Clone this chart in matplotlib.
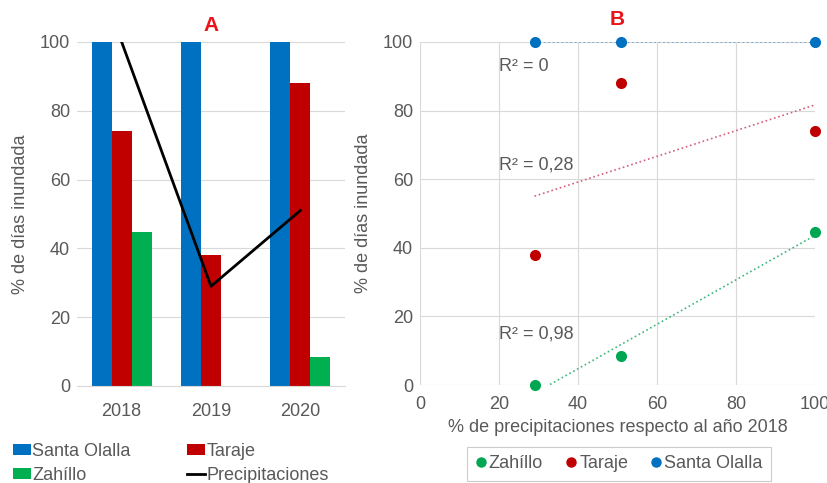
import matplotlib.pyplot as plt
from matplotlib.lines import Line2D
import numpy as np

plt.rcParams['font.family'] = ['Liberation Sans', 'DejaVu Sans']

years = ['2018', '2019', '2020']
santa_olalla = [100, 100, 100]
taraje = [74, 38, 88]
zahillo = [44.7, 0, 8.4]
precipitaciones = [100, 29, 51]

grey = '#595959'
gridc = '#d9d9d9'
c_blue = '#0070c0'
c_red = '#c00000'
c_green = '#00b050'
fs = 13

fig = plt.figure(figsize=(8.28, 4.83), dpi=100)

# ---- panel A: bars + precipitation line
axA = fig.add_axes([77 / 828, 97 / 483, 268 / 828, 344 / 483])
x = np.arange(len(years))
w = 0.224
bA1 = axA.bar(x - w, santa_olalla, w, color=c_blue, zorder=2)
bA2 = axA.bar(x, taraje, w, color=c_red, zorder=2)
bA3 = axA.bar(x + w, zahillo, w, color=c_green, zorder=2)
lA, = axA.plot(x, precipitaciones, color='black', lw=2, zorder=3)
axA.set_xlim(-0.5, 2.5)
axA.set_ylim(0, 100)
axA.set_yticks([0, 20, 40, 60, 80, 100])
axA.set_xticks(x)
axA.set_xticklabels(years)
axA.yaxis.grid(True, color=gridc, lw=0.8, zorder=0)
for s in ['top', 'right', 'left']:
    axA.spines[s].set_visible(False)
axA.spines['bottom'].set_color(gridc)
axA.tick_params(length=0, labelsize=fs, labelcolor=grey)
axA.tick_params(axis='x', pad=12)
axA.tick_params(axis='y', pad=5)
axA.set_ylabel('% de días inundada', fontsize=fs, color=grey, labelpad=8)
axA.set_title('A', color='#e8141c', fontsize=15, fontweight='bold', pad=8)

# legend fills column-wise: col 1 = Santa Olalla / Zahíllo, col 2 = Taraje / Precipitaciones
fig.legend([bA1, bA3, bA2, lA],
           ['Santa Olalla', 'Zahíllo', 'Taraje', 'Precipitaciones'],
           ncol=2, loc='upper left', bbox_to_anchor=(4 / 828, 1 - 434 / 483),
           frameon=False, fontsize=fs, labelcolor=grey,
           handlelength=1.0, handleheight=0.55, handletextpad=0.05,
           columnspacing=3.15, labelspacing=0.4, borderpad=0)

# ---- panel B: scatter vs precipitation with linear trendlines
axB = fig.add_axes([420 / 828, 98 / 483, 395 / 828, 343 / 483])
series = [
    ('Zahíllo', zahillo, '#00a651', '#3cb878', 'R² = 0,98', 15),
    ('Taraje', taraje, c_red, '#d45f7a', 'R² = 0,28', 64),
    ('Santa Olalla', santa_olalla, c_blue, '#5b9bd5', 'R² = 0', 93),
]
handles = []
xp = np.array(precipitaciones, dtype=float)
xs = np.linspace(xp.min(), xp.max(), 200)
for name, vals, col, tcol, r2, ty in series:
    axB.scatter(xp, vals, s=64, color=col, zorder=4, clip_on=False,
                linewidths=0)
    handles.append(Line2D([], [], ls='none', marker='o', ms=6.5,
                          color=col, label=name))
    k, b = np.polyfit(xp, vals, 1)
    ys = k * xs + b
    m = ys >= 0
    axB.plot(xs[m], ys[m], ls=':', lw=1.2, color=tcol, zorder=3)
    axB.text(20, ty, r2, fontsize=fs, color=grey, va='center', ha='left')

axB.set_xlim(0, 100)
axB.set_ylim(0, 100)
axB.set_xticks([0, 20, 40, 60, 80, 100])
axB.set_yticks([0, 20, 40, 60, 80, 100])
axB.grid(True, color=gridc, lw=0.8, zorder=0)
for s in axB.spines.values():
    s.set_visible(False)
axB.tick_params(length=0, labelsize=fs, labelcolor=grey)
axB.tick_params(axis='x', pad=8)
axB.tick_params(axis='y', pad=5)
axB.set_ylabel('% de días inundada', fontsize=fs, color=grey, labelpad=8)
axB.set_xlabel('% de precipitaciones respecto al año 2018', fontsize=fs,
               color=grey, labelpad=4)
axB.set_title('B', color='#e8141c', fontsize=15, fontweight='bold', pad=12)

leg = fig.legend(handles=handles, ncol=3, loc='center',
                 bbox_to_anchor=(619 / 828, 1 - 464 / 483),
                 fontsize=fs, labelcolor=grey, handlelength=0.6,
                 handletextpad=0.15, columnspacing=1.25, borderpad=0.45,
                 fancybox=False, edgecolor='#bfbfbf')
leg.get_frame().set_linewidth(0.8)

fig.savefig('out.png', dpi=100)
